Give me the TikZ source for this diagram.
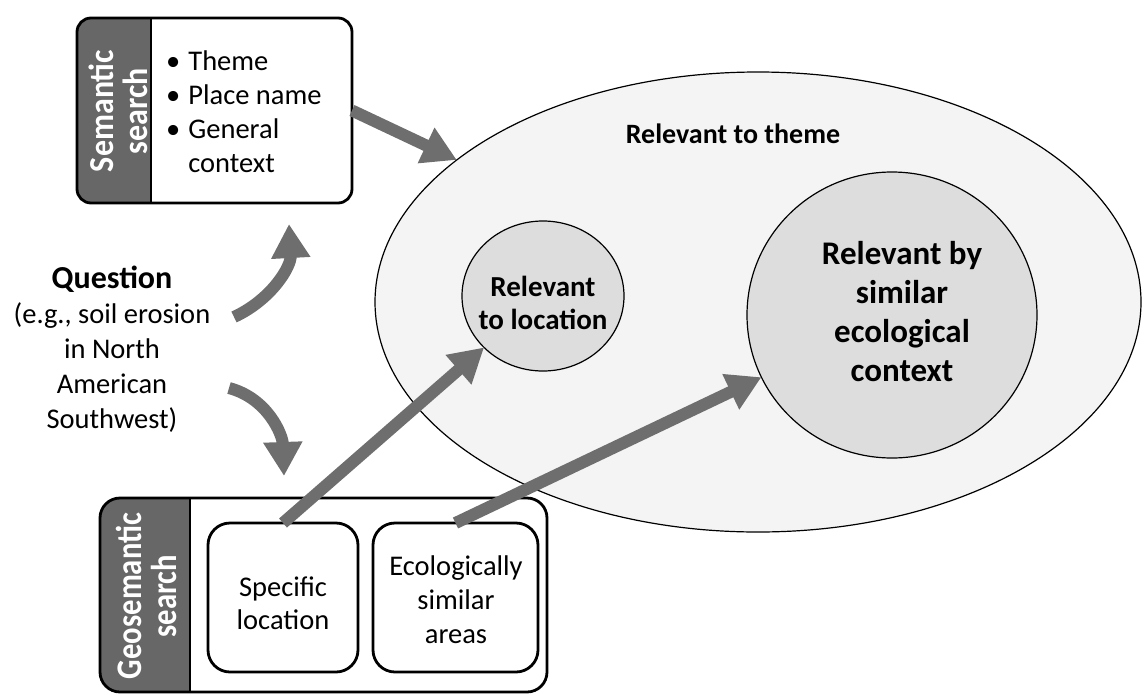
\documentclass[tikz,border=0pt]{standalone}
\usepackage{fontspec}
\setmainfont{Carlito}
\usetikzlibrary{arrows.meta,shapes.geometric}
\definecolor{stripgray}{HTML}{676767}
\definecolor{arrowgray}{HTML}{6E6E6E}
\definecolor{outerfill}{HTML}{F4F4F4}
\definecolor{innerfill}{HTML}{DDDDDD}
\newcommand\fReg{\fontsize{28.5}{34}\selectfont}
\newcommand\fBold{\fontsize{28}{34}\selectfont\bfseries}
\newcommand\fBig{\fontsize{33}{39}\selectfont\bfseries}
\tikzset{
  box/.style={draw, line width=2.8pt, rounded corners=#1, fill=white, inner sep=0pt, outer sep=0pt},
  strip/.style={path picture={
      \fill[stripgray, sharp corners] (path picture bounding box.north west) rectangle ([xshift=#1]path picture bounding box.south west);
      \draw[line width=2.8pt, sharp corners] ([xshift=#1]path picture bounding box.north west) -- ([xshift=#1]path picture bounding box.south west);}},
  oval/.style={ellipse, draw, inner sep=0pt, outer sep=0pt},
  bigarrow/.style={draw=arrowgray, line width=12pt, line cap=butt,
      -{Triangle[length=34pt, width=37pt]}, fill=none},
  txt/.style={inner sep=0pt, align=center},
  lab/.style={inner sep=0pt, text=white, rotate=90},
}
\begin{document}
\begin{tikzpicture}[x=1pt, y=-1pt]
\useasboundingbox (0,0) rectangle (1143,694);
% ellipses
\node[oval, fill=outerfill, line width=1.2pt, minimum width=766pt, minimum height=460pt] (theme) at (758,302) {};
\node[oval, fill=innerfill, line width=1.2pt, minimum width=162pt, minimum height=150pt] (loc) at (543,296) {};
\node[oval, fill=innerfill, line width=1.2pt, minimum width=290pt, minimum height=286pt] (eco) at (892,315) {};
\node[txt, font=\fBold] (themetext) at (733,134) {Relevant to theme};
\node[txt, font=\fontsize{29}{33}\selectfont\bfseries] (loctext) at (543,303) {Relevant\\to location};
\node[txt, font=\fBig] (ecotext) at (902,312) {Relevant by\\similar\\ecological\\context};
% semantic search box
\node[box=14pt, strip=74pt, minimum width=275pt, minimum height=185pt] (sem) at (214.5,110.5) {};
\node[lab] (semlab) at (122.5,111) {\resizebox{122pt}{\height}{\fontsize{35}{29.5}\selectfont\bfseries\begin{tabular}{@{}c@{}}Semantic\\search\end{tabular}}};
\node[inner sep=0pt, anchor=base west, font=\fReg] (semlist) at (166,70) {%
  \begin{tabular}[t]{@{}l@{\hspace{8pt}}l@{}}
  \textbullet & Theme\\
  \textbullet & Place name\\
  \textbullet & General\\
  & context
  \end{tabular}};
% geosemantic search box
\node[box=20pt, strip=90pt, minimum width=447pt, minimum height=194pt] (geo) at (323.5,595) {};
\node[lab] (geolab) at (151.5,596) {\resizebox{166pt}{\height}{\fontsize{36}{32}\selectfont\bfseries\begin{tabular}{@{}c@{}}Geosemantic\\search\end{tabular}}};
\node[box=22pt, minimum width=150pt, minimum height=149pt] (spec) at (283,597.5) {};
\node[box=22pt, minimum width=165pt, minimum height=149pt] (simil) at (455.5,597.5) {};
\node[txt, font=\fontsize{28.5}{33}\selectfont] (spectext) at (283,603) {Specific\\location};
\node[txt, font=\fontsize{28.5}{34}\selectfont] (similtext) at (456,600) {Ecologically\\similar\\areas};
% question
\node[txt, font=\fontsize{28.5}{35}\selectfont] (q) at (112,349.5) {{\fontsize{32}{35}\selectfont\bfseries Question}\\(e.g., soil erosion\\in North\\American\\Southwest)};
\coordinate (qa) at (234,317);
\coordinate (qb) at (289,224);
\coordinate (qc) at (229,388);
\coordinate (qd) at (284,476);
% arrows
\draw[bigarrow] (sem.east) -- (theme);
\draw[bigarrow] (spec.north) -- (loc);
\draw[bigarrow] (simil.north) -- (eco);
\draw[bigarrow] (qa) to[out=25, in=-87] (qb);
\draw[bigarrow] (qc) to[out=-15, in=92] (qd);
\end{tikzpicture}
\end{document}
